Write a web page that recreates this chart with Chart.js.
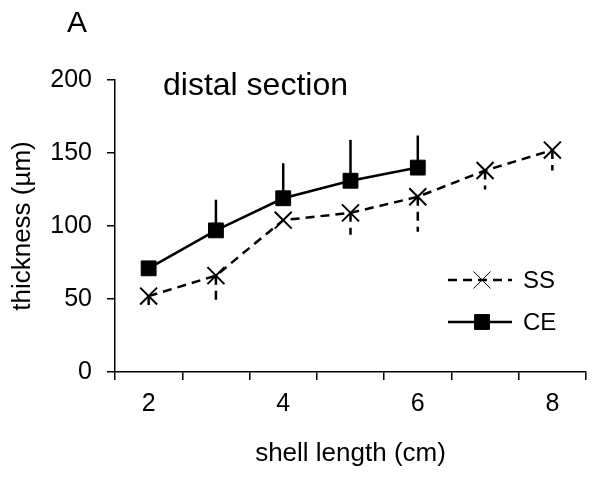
<!DOCTYPE html>
<html>
<head>
<meta charset="utf-8">
<script src="https://cdn.jsdelivr.net/npm/chart.js@4/dist/chart.umd.min.js"></script>
<style>
  html, body { margin: 0; padding: 0; background: #fff; }
</style>
</head>
<body>
<canvas id="thickness-chart" width="600" height="477"></canvas>
<script>
var shellLengths = ["2", "3", "4", "5", "6", "7", "8"];
var ssValues = [52, 66, 104, 109, 120, 138, 152];
var ssErrorLow = [44, 49, null, 94, 96, 125, 138];
var ceValues = [71, 97, 119, 131, 140, null, null];
var ceErrorHigh = [74, 118, 143, 159, 162, null, null];
var yTicks = [0, 50, 100, 150, 200];

var FONT = "'Liberation Sans', Arial, sans-serif";
var SS_DASH = [9, 6];

// error bars: SS one-sided down (dashed), CE one-sided up (solid)
var errorBars = {
  id: "errorBars",
  beforeDatasetsDraw: function(chart) {
    var ctx = chart.ctx;
    var xs = chart.scales.x, ys = chart.scales.y;
    function bars(values, ends, dash) {
      ctx.save();
      ctx.strokeStyle = "#000";
      ctx.lineWidth = 2.5;
      ctx.setLineDash(dash);
      for (var i = 0; i < values.length; i++) {
        if (values[i] == null || ends[i] == null) continue;
        var x = xs.getPixelForValue(i);
        ctx.beginPath();
        ctx.moveTo(x, ys.getPixelForValue(values[i]));
        ctx.lineTo(x, ys.getPixelForValue(ends[i]));
        ctx.stroke();
      }
      ctx.restore();
    }
    bars(ssValues, ssErrorLow, SS_DASH);
    bars(ceValues, ceErrorHigh, []);
  }
};

// panel letter, inner title and the small legend box
var annotations = {
  id: "annotations",
  afterDraw: function(chart) {
    var ctx = chart.ctx;
    ctx.save();
    ctx.fillStyle = "#000";
    ctx.textBaseline = "alphabetic";
    ctx.font = "30px " + FONT;
    ctx.textAlign = "center";
    ctx.fillText("A", 77, 32);
    ctx.textAlign = "left";
    ctx.font = "32px " + FONT;
    ctx.fillText("distal section", 163, 95);

    var rows = [
      { y: 280, ds: chart.data.datasets[0], dash: SS_DASH },
      { y: 322, ds: chart.data.datasets[1], dash: [] }
    ];
    ctx.font = "24px " + FONT;
    ctx.textBaseline = "middle";
    rows.forEach(function(r) {
      ctx.save();
      ctx.strokeStyle = "#000";
      ctx.lineWidth = 2.5;
      ctx.setLineDash(r.dash);
      ctx.beginPath();
      ctx.moveTo(448, r.y);
      ctx.lineTo(512, r.y);
      ctx.stroke();
      ctx.restore();
      Chart.helpers.drawPoint(ctx, {
        pointStyle: r.ds.pointStyle,
        radius: r.ds.pointRadius,
        borderWidth: r.ds.pointBorderWidth
      }, 482, r.y);
      ctx.fillText(r.ds.label, 523, r.y + 1);
    });
    ctx.restore();
  }
};

new Chart(document.getElementById("thickness-chart"), {
  type: "line",
  data: {
    labels: shellLengths,
    datasets: [
      {
        label: "SS",
        data: ssValues,
        borderColor: "#000",
        borderWidth: 2.5,
        borderDash: SS_DASH,
        pointStyle: "crossRot",
        pointRadius: 12,
        pointBorderWidth: 2,
        pointBorderColor: "#000",
        pointBackgroundColor: "#000",
        tension: 0
      },
      {
        label: "CE",
        data: ceValues,
        borderColor: "#000",
        borderWidth: 2.5,
        pointStyle: "rect",
        pointRadius: 10.5,
        pointBorderWidth: 1,
        pointBorderColor: "#000",
        pointBackgroundColor: "#000",
        tension: 0
      }
    ]
  },
  options: {
    responsive: false,
    animation: false,
    devicePixelRatio: 1,
    layout: { padding: { left: 0, right: 2, top: 80, bottom: 0 } },
    plugins: { legend: { display: false }, tooltip: { enabled: false } },
    scales: {
      x: {
        offset: true,
        grid: { offset: true, drawOnChartArea: false, drawTicks: true, tickLength: 8, color: "#000", lineWidth: 1.5 },
        border: { display: true, color: "#000", width: 1.5 },
        ticks: {
          color: "#000",
          font: { family: FONT, size: 25 },
          padding: 9,
          maxRotation: 0,
          autoSkip: false,
          callback: function(val, i) {
            return Number(shellLengths[i]) % 2 === 0 ? shellLengths[i] : "";
          }
        },
        title: {
          display: true,
          text: "shell length (cm)",
          color: "#000",
          font: { family: FONT, size: 26 },
          padding: { top: 0, bottom: 8 }
        },
        afterFit: function(scale) { scale.height = 105; }
      },
      y: {
        min: 0,
        max: 200,
        afterBuildTicks: function(scale) {
          scale.ticks = yTicks.map(function(v) { return { value: v }; });
        },
        grid: { drawOnChartArea: false, drawTicks: true, tickLength: 8, color: "#000", lineWidth: 1.5 },
        border: { display: true, color: "#000", width: 1.5 },
        ticks: {
          color: "#000",
          font: { family: FONT, size: 25 },
          padding: 15
        },
        title: {
          display: true,
          text: "thickness (µm)",
          color: "#000",
          font: { family: FONT, size: 26 },
          padding: { top: 7, bottom: 0 }
        },
        afterFit: function(scale) { scale.width = 115; }
      }
    }
  },
  plugins: [errorBars, annotations]
});
</script>
</body>
</html>
